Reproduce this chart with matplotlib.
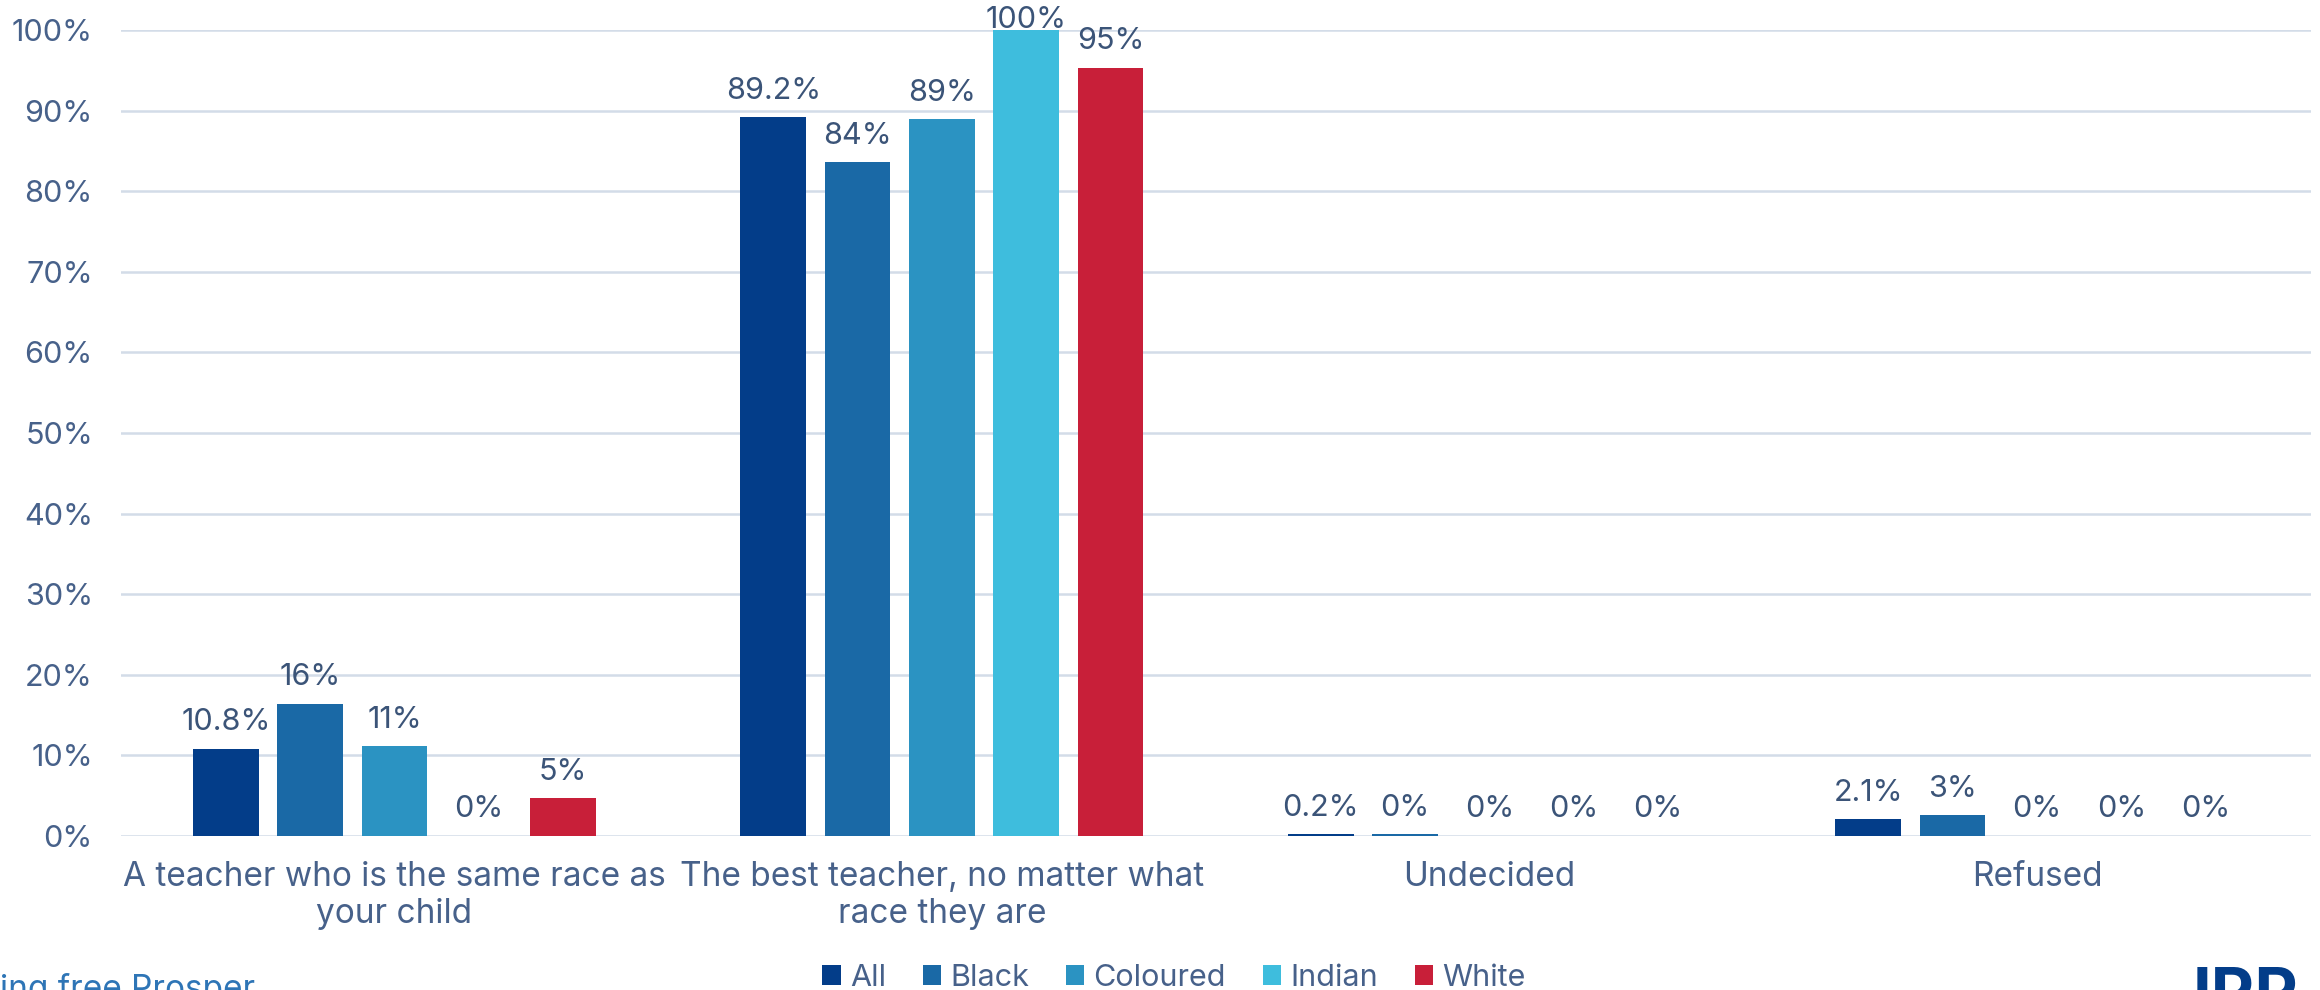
import numpy as np
import matplotlib
matplotlib.use("Agg")
import matplotlib.pyplot as plt

plt.rcParams['font.family'] = ['Inter', 'DejaVu Sans']

categories = ["A teacher who is the same race as\nyour child",
              "The best teacher, no matter what\nrace they are",
              "Undecided",
              "Refused"]
groups = ["All", "Black", "Coloured", "Indian", "White"]

# bar heights and the printed labels
all_vals = [10.8, 89.2, 0.2, 2.1]
black_vals = [16.4, 83.6, 0.2, 2.6]
coloured_vals = [11.1, 88.9, 0.0, 0.0]
indian_vals = [0.0, 100.0, 0.0, 0.0]
white_vals = [4.7, 95.3, 0.0, 0.0]

all_labels = ["10.8%", "89.2%", "0.2%", "2.1%"]
black_labels = ["16%", "84%", "0%", "3%"]
coloured_labels = ["11%", "89%", "0%", "0%"]
indian_labels = ["0%", "100%", "0%", "0%"]
white_labels = ["5%", "95%", "0%", "0%"]

colors = ["#033D89", "#1A69A6", "#2B93C2", "#3EBDDD", "#C81F39"]
text_col = "#3B5478"
tick_col = "#47618A"

series = [all_vals, black_vals, coloured_vals, indian_vals, white_vals]
labels = [all_labels, black_labels, coloured_labels, indian_labels, white_labels]

fig = plt.figure(figsize=(23.2, 9.9), dpi=100)
ax = fig.add_axes([0.052, 0.1556, 0.944, 0.8141])

x = np.arange(len(categories))
width = 0.12
step = 0.154

for i, (vals, labs) in enumerate(zip(series, labels)):
    pos = x + (i - 2) * step
    ax.bar(pos, vals, width, color=colors[i], label=groups[i], zorder=3)
    for px, v, lab in zip(pos, vals, labs):
        # labels at the very top get pushed down onto the bar, as in the original
        dy = -3 if v >= 99 else 9
        ax.annotate(lab, (px, v), xytext=(0, dy), textcoords="offset points",
                    ha="center", va="bottom", fontsize=22, color=text_col,
                    annotation_clip=False, zorder=4)

ax.set_xlim(-0.5, 3.5)
ax.set_ylim(0, 100)
ax.set_yticks(np.arange(0, 101, 10))
ax.set_yticklabels([f"{v}%" for v in range(0, 101, 10)])
ax.set_xticks(x)
ax.set_xticklabels(categories, fontsize=24, color=tick_col, linespacing=1.2)
ax.tick_params(axis='y', labelsize=22, labelcolor=tick_col, length=0, pad=20)
ax.tick_params(axis='x', length=0, pad=18)
ax.grid(axis='y', color="#D3DCE8", linewidth=1.8, zorder=0)
for s in ax.spines.values():
    s.set_visible(False)

leg = fig.legend(loc="upper center", bbox_to_anchor=(0.506, 0.039), ncol=5,
                 frameon=False, handlelength=0.6, handleheight=0.6,
                 handletextpad=0.3, columnspacing=1.2, borderaxespad=0,
                 fontsize=22)
for t in leg.get_texts():
    t.set_color(tick_col)

fig.text(0.0, -0.016, "ing free Prosper", fontsize=24, color="#2E75B6",
         ha="left", va="bottom")
fig.text(0.945, -0.04, "IRR", fontsize=48, color="#033D89", fontweight="bold",
         ha="left", va="bottom")

fig.savefig("out.png", dpi=100)
